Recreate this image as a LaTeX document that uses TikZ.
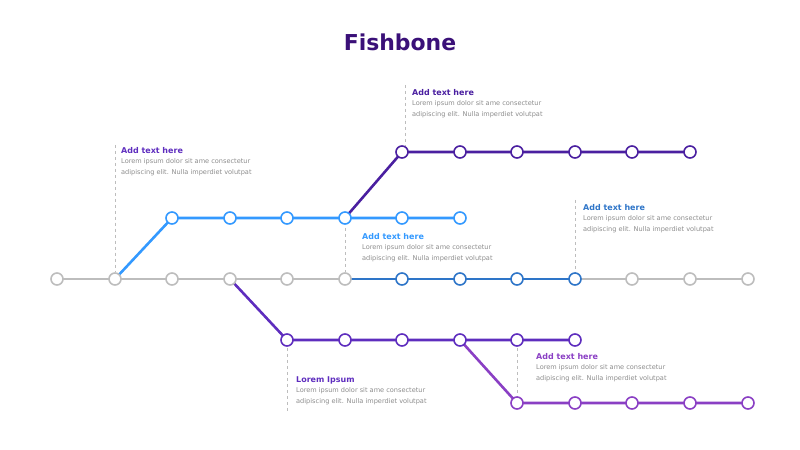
\documentclass[tikz,border=0pt]{standalone}
\usepackage{fontspec}
\setmainfont{DejaVu Sans}
\definecolor{lgray}{HTML}{BDBDBD}
\definecolor{lblue}{HTML}{3399FF}
\definecolor{dblue}{HTML}{2E75C8}
\definecolor{dpurple}{HTML}{4A1FA0}
\definecolor{mpurple}{HTML}{5E2DBE}
\definecolor{violet}{HTML}{8A3FC4}
\definecolor{titlec}{HTML}{3A1078}
\definecolor{txtgray}{HTML}{8C8C8C}
\tikzset{
  stop/.style={circle,draw=#1,fill=white,line width=1.6pt,inner sep=0pt,minimum size=12bp},
  track/.style={draw=#1,line width=2.6pt},
  guide/.style={draw=lgray,dashed,line width=0.5pt},
  head/.style={anchor=west,font=\fontsize{8}{9}\selectfont\bfseries,text=#1,inner sep=0pt},
  body/.style={anchor=north west,align=left,font=\fontsize{6.6}{11}\selectfont,text=txtgray,inner sep=0pt}
}
\begin{document}
\begin{tikzpicture}[x=1bp,y=-1bp]
	\useasboundingbox (0,0) rectangle (800,450);
	\node[font=\fontsize{22}{26}\selectfont\bfseries,text=titlec] (title) at (400,42) {Fishbone};

	% guides
	\draw[guide] (115,145) -- (115,272);
	\draw[guide] (405,85) -- (405,145);
	\draw[guide] (575,200) -- (575,272);
	\draw[guide] (345,228) -- (345,272);
	\draw[guide] (287,348) -- (287,412);
	\draw[guide] (517,348) -- (517,396);

	% tracks
	\draw[track=lgray] (57,279) -- (345,279);
	\draw[track=dblue] (345,279) -- (575,279);
	\draw[track=lgray] (575,279) -- (748,279);
	\draw[track=lblue] (115,279) -- (172,218) -- (460,218);
	\draw[track=dpurple] (345,218) -- (402,152) -- (690,152);
	\draw[track=mpurple] (230,279) -- (287,340) -- (575,340);
	\draw[track=violet] (460,340) -- (517,403) -- (748,403);

	% stops
	\foreach \i/\x in {0/57,1/115,2/172,3/230,4/287,5/345,10/632,11/690,12/748}
		\node[stop=lgray] (m\i) at (\x,279) {};
	\foreach \i/\x in {6/402,7/460,8/517,9/575}
		\node[stop=dblue] (m\i) at (\x,279) {};
	\foreach \i/\x in {1/172,2/230,3/287,4/345,5/402,6/460}
		\node[stop=lblue] (a\i) at (\x,218) {};
	\foreach \i/\x in {1/402,2/460,3/517,4/575,5/632,6/690}
		\node[stop=dpurple] (b\i) at (\x,152) {};
	\foreach \i/\x in {1/287,2/345,3/402,4/460,5/517,6/575}
		\node[stop=mpurple] (c\i) at (\x,340) {};
	\foreach \i/\x in {1/517,2/575,3/632,4/690,5/748}
		\node[stop=violet] (d\i) at (\x,403) {};

	% labels
	\node[head=mpurple] (h1) at (121,151) {Add text here};
	\node[body] (t1) at (121,158) {Lorem ipsum dolor sit ame consectetur\\adipiscing elit. Nulla imperdiet volutpat};
	\node[head=dpurple] (h2) at (412,93) {Add text here};
	\node[body] (t2) at (412,100) {Lorem ipsum dolor sit ame consectetur\\adipiscing elit. Nulla imperdiet volutpat};
	\node[head=dblue] (h3) at (583,208) {Add text here};
	\node[body] (t3) at (583,215) {Lorem ipsum dolor sit ame consectetur\\adipiscing elit. Nulla imperdiet volutpat};
	\node[head=lblue] (h4) at (362,237) {Add text here};
	\node[body] (t4) at (362,244) {Lorem ipsum dolor sit ame consectetur\\adipiscing elit. Nulla imperdiet volutpat};
	\node[head=mpurple] (h5) at (296,380) {Lorem Ipsum};
	\node[body] (t5) at (296,387) {Lorem ipsum dolor sit ame consectetur\\adipiscing elit. Nulla imperdiet volutpat};
	\node[head=violet] (h6) at (536,357) {Add text here};
	\node[body] (t6) at (536,364) {Lorem ipsum dolor sit ame consectetur\\adipiscing elit. Nulla imperdiet volutpat};
\end{tikzpicture}
\end{document}
